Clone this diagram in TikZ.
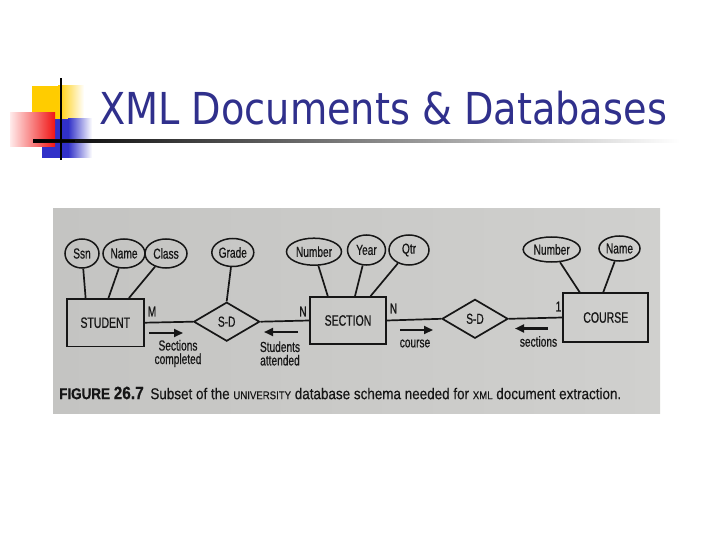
\documentclass[tikz,border=0pt]{standalone}
\usepackage{fontspec}
\setmainfont{Liberation Sans}
\newfontfamily\titlefont[FakeStretch=0.967]{DejaVu Sans Condensed}
\newfontfamily\erfont[FakeStretch=0.7,FakeBold=0.6]{Liberation Sans}
\newfontfamily\capfont[FakeStretch=0.86,FakeBold=0.4]{Liberation Sans}
\usetikzlibrary{shapes.geometric,arrows.meta,calc}
\definecolor{titleblue}{RGB}{48,48,140}
\definecolor{logoyellow}{RGB}{255,204,0}
\definecolor{logored}{RGB}{240,20,20}
\definecolor{logoblue}{RGB}{48,48,200}
\definecolor{scanl}{RGB}{196,196,194}
\definecolor{scanr}{RGB}{208,208,206}
\definecolor{ink}{RGB}{22,22,22}
\tikzset{
  ent/.style={rectangle, draw=ink, line width=1.7pt, inner sep=0pt, text=ink,
    font=\erfont\fontsize{15}{15}\selectfont},
  attr/.style={ellipse, draw=ink, line width=1.5pt, inner sep=0pt, text=ink,
    font=\erfont\fontsize{14.5}{15}\selectfont},
  rel/.style={diamond, draw=ink, line width=1.7pt, inner sep=0pt, aspect=1.7,
    minimum width=66pt, minimum height=39pt, text=ink,
    font=\erfont\fontsize{14.5}{15}\selectfont},
  lab/.style={inner sep=0pt, align=center, text=ink,
    font=\erfont\fontsize{14.5}{13.5}\selectfont},
  card/.style={inner sep=0pt, text=ink, font=\erfont\fontsize{14.5}{14}\selectfont},
  erline/.style={draw=ink, line width=1.7pt},
  dirarrow/.style={draw=ink, line width=2.2pt, -{Triangle[length=9pt,width=8pt]}}
}
\begin{document}
\begin{tikzpicture}[x=1pt,y=-1pt]
\useasboundingbox (0,0) rectangle (720,540);
\fill[white] (0,0) rectangle (720,540);
% logo
\fill[logoyellow] (32,86) rectangle (58,120);
\shade[left color=logoyellow, right color=white] (58,86) rectangle (84,120);
\fill[logoblue] (42,119) rectangle (68,158);
\shade[left color=logoblue, right color=white] (68,119) rectangle (92,158);
\shade[left color=red!8, right color=logored] (10,113) rectangle (55,147);
\shade[left color=black, right color=white] (33,140) rectangle (680,142.2);
\fill[black] (33,140) rectangle (75,142.2);
\fill[black] (60,78) rectangle (62.2,160);
% title
\node[anchor=base west, inner sep=0pt, text=titleblue,
  font=\titlefont\fontsize{44}{44}\selectfont] (title) at (99,125) {XML Documents \& Databases};
% scanned panel
\shade[left color=scanl, right color=scanr] (53,209) rectangle (660,413);
% entities
\node[ent, minimum width=77pt, minimum height=47.5pt] (stu) at (105.3,322.7) {STUDENT};
\node[ent, minimum width=76pt, minimum height=47pt] (sec) at (348,320.5) {SECTION};
\node[ent, minimum width=85pt, minimum height=48.5pt] (crs) at (605.8,317.5) {COURSE};
% relationships
\node[rel] (sd1) at (226.7,321.7) {S-D};
\node[rel] (sd2) at (475,318.8) {S-D};
% attributes
\node[attr, minimum width=34pt, minimum height=29pt] (ssn) at (82,253.5) {Ssn};
\node[attr, minimum width=42pt, minimum height=29pt] (sname) at (124,253.5) {Name};
\node[attr, minimum width=42pt, minimum height=29pt] (cls) at (166,253.5) {Class};
\node[attr, minimum width=42pt, minimum height=28pt] (grade) at (232.8,252.5) {Grade};
\node[attr, minimum width=55pt, minimum height=27pt] (snum) at (314,251.7) {Number};
\node[attr, minimum width=38pt, minimum height=30pt] (year) at (366.5,250) {Year};
\node[attr, minimum width=40pt, minimum height=30pt] (qtr) at (409,250) {Qtr};
\node[attr, minimum width=57pt, minimum height=25pt] (cnum) at (551.7,249.5) {Number};
\node[attr, minimum width=41pt, minimum height=25pt] (cname) at (619.5,248.5) {Name};
% attribute links
\draw[erline] (ssn) -- ($(stu.north west)!0.25!(stu.north east)$);
\draw[erline] (sname) -- ($(stu.north west)!0.54!(stu.north east)$);
\draw[erline] (cls) -- ($(stu.north west)!0.8!(stu.north east)$);
\draw[erline] (grade) -- (sd1.north);
\draw[erline] (snum) -- ($(sec.north west)!0.24!(sec.north east)$);
\draw[erline] (year) -- ($(sec.north west)!0.59!(sec.north east)$);
\draw[erline] (qtr) -- ($(sec.north west)!0.79!(sec.north east)$);
\draw[erline] (cnum) -- ($(crs.north west)!0.2!(crs.north east)$);
\draw[erline] (cname) -- ($(crs.north west)!0.47!(crs.north east)$);
% relationship links
\draw[erline] (stu.east) -- (sd1.west);
\draw[erline] (sd1.east) -- (sec.west);
\draw[erline] (sec.east) -- (sd2.west);
\draw[erline] (sd2.east) -- (crs.west);
% cardinalities
\node[card] (cm) at (152,311.5) {M};
\node[card] (cn1) at (303,311.5) {N};
\node[card] (cn2) at (393.5,308.5) {N};
\node[card] (c1) at (558.5,306.5) {1};
% direction arrows
\coordinate (a1s) at (149,333); \coordinate (a1e) at (183,333);
\coordinate (a2s) at (298,332); \coordinate (a2e) at (264,332);
\coordinate (a3s) at (400,330); \coordinate (a3e) at (433,330);
\coordinate (a4s) at (548,328.5); \coordinate (a4e) at (515,328.5);
\draw[dirarrow] (a1s) -- (a1e);
\draw[dirarrow] (a2s) -- (a2e);
\draw[dirarrow] (a3s) -- (a3e);
\draw[dirarrow] (a4s) -- (a4e);
\node[lab] (l1) at (178,353.5) {Sections\\completed};
\node[lab] (l2) at (280,353.5) {Students\\attended};
\node[lab] (l3) at (415,343.5) {course};
\node[lab] (l4) at (538.5,341.5) {sections};
% caption
\node[anchor=west, inner sep=0pt, text=ink] (cap) at (59,393)
  {\resizebox{562pt}{!}{\capfont\fontsize{14}{14}\selectfont
   {\bfseries FIGURE {\fontsize{16}{16}\selectfont 26.7}}\hspace{6pt}Subset of the
   {\fontsize{10}{10}\selectfont UNIVERSITY} database schema needed for
   {\fontsize{10}{10}\selectfont XML} document extraction.}};
\end{tikzpicture}
\end{document}
